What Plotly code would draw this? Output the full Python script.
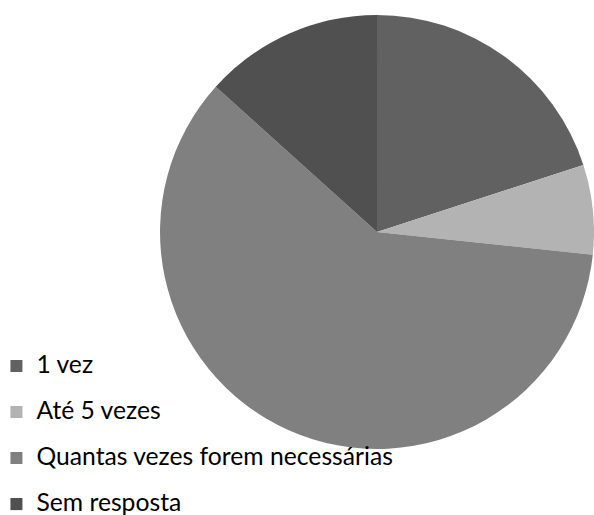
import plotly.graph_objects as go

labels = ["1 vez", "Até 5 vezes", "Quantas vezes forem necessárias", "Sem resposta"]
values = [3, 1, 9, 2]
colors = ["#616161", "#b3b3b3", "#808080", "#505050"]

legend_labels = ["<span style='font-size:24.7px'>%s</span><br> " % l for l in labels]

fig = go.Figure(
    go.Pie(
        labels=legend_labels,
        values=values,
        marker=dict(colors=colors, line=dict(width=0)),
        sort=False,
        direction="clockwise",
        rotation=0,
        textinfo="none",
        hoverinfo="skip",
        domain=dict(x=[0.2694, 1.0], y=[0.1282, 0.9709]),
    )
)

fig.update_layout(
    width=594,
    height=515,
    margin=dict(l=0, r=0, t=0, b=0, autoexpand=False),
    paper_bgcolor="white",
    plot_bgcolor="white",
    font=dict(family="Lato, Carlito, sans-serif", color="#000000"),
    showlegend=True,
    legend=dict(
        x=-0.006,
        y=-0.056,
        xanchor="left",
        yanchor="bottom",
        valign="top",
        font=dict(size=16.54, family="Lato, sans-serif", color="#000000"),
        bgcolor="rgba(0,0,0,0)",
        traceorder="normal",
    ),
)

fig.write_html(
    "out.html",
    config={"displayModeBar": False},
    post_script="document.body.style.margin='0';document.body.style.overflow='hidden';",
)
